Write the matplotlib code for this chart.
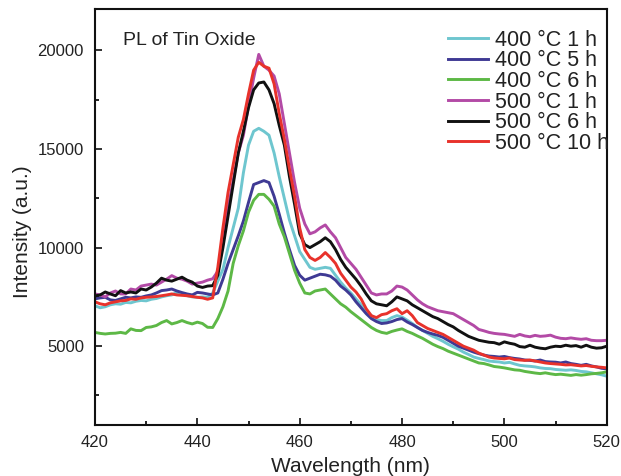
import numpy as np
import matplotlib
matplotlib.use("Agg")
import matplotlib.pyplot as plt
from matplotlib.ticker import MultipleLocator

wavelength = list(range(420, 521))

c400_1h = [7050, 6950, 7000, 7100, 7150, 7130, 7220, 7200, 7280, 7320,
           7300, 7380, 7420, 7500, 7560, 7600, 7730, 7650, 7560, 7500,
           7480, 7500, 7480, 7700, 8300, 8900, 10000, 11000, 12000, 13800,
           15200, 15900, 16050, 15900, 15700, 14800, 13600, 12500, 11400, 10600,
           9800, 9400, 9000, 8900, 8950, 9000, 8950, 8600, 8250, 7950,
           7700, 7400, 7100, 6800, 6550, 6350, 6300, 6300, 6450, 6550,
           6480, 6320, 6150, 5950, 5800, 5650, 5500, 5380, 5250, 5100,
           4970, 4850, 4700, 4580, 4450, 4380, 4320, 4250, 4220, 4200,
           4150, 4180, 4100, 4030, 4000, 3980, 3950, 3900, 3870, 3860,
           3820, 3800, 3780, 3800, 3770, 3720, 3700, 3650, 3600, 3550, 3480]

c400_5h = [7400, 7450, 7480, 7350, 7320, 7400, 7480, 7450, 7500, 7480,
           7550, 7600, 7700, 7820, 7850, 7900, 7800, 7720, 7650, 7600,
           7730, 7700, 7650, 7600, 7700, 8400, 9200, 9900, 10600, 11350,
           12300, 13200, 13300, 13400, 13300, 12600, 11700, 10750, 9900, 9100,
           8600, 8350, 8450, 8550, 8650, 8620, 8550, 8350, 8050, 7850,
           7600, 7250, 6950, 6650, 6400, 6250, 6150, 6180, 6250, 6350,
           6400, 6230, 6100, 5950, 5800, 5700, 5620, 5550, 5450, 5300,
           5150, 5000, 4900, 4800, 4700, 4620, 4550, 4500, 4480, 4450,
           4480, 4420, 4380, 4350, 4300, 4280, 4250, 4300, 4220, 4200,
           4190, 4150, 4200, 4120, 4080, 4030, 4080, 4000, 3950, 3880, 3850]

c400_6h = [5700, 5650, 5620, 5650, 5660, 5700, 5650, 5880, 5800, 5790,
           5950, 5980, 6050, 6200, 6300, 6130, 6200, 6300, 6200, 6130,
           6220, 6150, 5960, 5950, 6400, 7000, 7800, 9200, 10100, 10850,
           11800, 12400, 12700, 12700, 12450, 12100, 11200, 10550, 9700, 8850,
           8200, 7700, 7650, 7800, 7850, 7900, 7650, 7400, 7150, 6980,
           6750, 6550, 6350, 6150, 5950, 5800, 5700, 5650, 5750, 5820,
           5880, 5750, 5650, 5520, 5400, 5250, 5100, 4980, 4880, 4750,
           4650, 4550, 4450, 4350, 4250, 4150, 4120, 4050, 3970, 3940,
           3900, 3850, 3800, 3780, 3720, 3680, 3640, 3610, 3650, 3600,
           3560, 3580, 3550, 3520, 3560, 3530, 3560, 3600, 3620, 3650, 3700]

c500_1h = [7650, 7600, 7500, 7700, 7800, 7650, 7650, 7900, 7850, 8050,
           8100, 8150, 8100, 8250, 8400, 8580, 8450, 8400, 8300, 8150,
           8200, 8250, 8350, 8420, 8800, 10200, 12000, 13400, 14800, 15700,
           17200, 18600, 19800, 19200, 19000, 18700, 17800, 16300, 14800, 13300,
           12000, 11200, 10700, 10800, 11000, 11150, 10800, 10500, 10000, 9500,
           9200, 8900, 8500, 8100, 7700, 7600, 7650, 7650, 7800, 8050,
           8000, 7850, 7600, 7350, 7150, 7000, 6900, 6800, 6750, 6700,
           6650, 6500, 6350, 6200, 6050, 5850, 5780, 5700, 5650, 5620,
           5600, 5550, 5500, 5600, 5520, 5480, 5550, 5500, 5520, 5560,
           5460, 5400, 5380, 5420, 5380, 5350, 5380, 5300, 5280, 5280, 5300]

c500_6h = [7550, 7600, 7750, 7650, 7560, 7820, 7700, 7750, 7700, 7900,
           7850, 8000, 8200, 8450, 8350, 8300, 8400, 8500, 8350, 8250,
           8050, 7980, 8050, 8070, 8600, 10000, 11600, 13200, 14800, 15900,
           17100, 18000, 18350, 18400, 18000, 17300, 16200, 15200, 13600, 12200,
           10700, 10150, 10000, 10150, 10300, 10500, 10300, 9900, 9400, 9000,
           8700, 8400, 8050, 7650, 7300, 7150, 7100, 7050, 7250, 7500,
           7400, 7300, 7100, 6950, 6800, 6650, 6500, 6400, 6250, 6100,
           5980, 5800, 5650, 5500, 5400, 5300, 5250, 5200, 5180, 5100,
           5220, 5150, 5100, 4980, 4950, 5050, 4950, 4900, 4870, 4950,
           5000, 4980, 5050, 5000, 5030, 4950, 5050, 4950, 4900, 4920, 5000]

c500_10h = [7250, 7150, 7100, 7200, 7250, 7300, 7320, 7400, 7380, 7450,
            7480, 7500, 7520, 7560, 7600, 7650, 7600, 7580, 7560, 7520,
            7480, 7450, 7380, 7450, 9000, 11000, 12800, 14200, 15600, 16500,
            17800, 19000, 19400, 19200, 19100, 18300, 16800, 15500, 14000, 12600,
            11000, 9900, 9500, 9350, 9500, 9750, 9500, 9200, 8700, 8350,
            8000, 7750, 7400, 6900, 6550, 6450, 6600, 6650, 6800, 6900,
            6650, 6800, 6550, 6200, 6050, 5900, 5800, 5700, 5600, 5450,
            5300, 5150, 5000, 4900, 4800, 4650, 4550, 4450, 4400, 4380,
            4360, 4400, 4320, 4300, 4280, 4300, 4250, 4200, 4150, 4120,
            4100, 4080, 4050, 4060, 4030, 4000, 4020, 3980, 3950, 3930, 3900]

labels = ["400 °C 1 h", "400 °C 5 h", "400 °C 6 h",
          "500 °C 1 h", "500 °C 6 h", "500 °C 10 h"]
series = [c400_1h, c400_5h, c400_6h, c500_1h, c500_6h, c500_10h]
colors = ["#6ec6cf", "#3f3a94", "#5db846", "#b34aa6", "#111111", "#e8322b"]

plt.rcParams['font.family'] = ['Liberation Sans', 'DejaVu Sans']

fig = plt.figure(figsize=(6.21, 4.76), dpi=100)
ax = fig.add_axes([0.153, 0.107, 0.824, 0.874])

for y, lab, col in zip(series, labels, colors):
    ax.plot(wavelength, y, color=col, lw=2.1, label=lab)

ax.set_xlim(420, 520)
ax.set_ylim(1000, 22100)
ax.xaxis.set_major_locator(MultipleLocator(20))
ax.xaxis.set_minor_locator(MultipleLocator(10))
ax.yaxis.set_major_locator(MultipleLocator(5000))
ax.yaxis.set_minor_locator(MultipleLocator(2500))
ax.tick_params(which='major', direction='in', length=5, width=1.3,
               labelsize=12, colors='#222222', pad=7)
ax.tick_params(which='minor', direction='in', length=3, width=1.2)
ax.tick_params(axis='y', which='major', pad=8)
for s in ax.spines.values():
    s.set_linewidth(1.5)
    s.set_color('#111111')

ax.set_xlabel("Wavelength (nm)", fontsize=15, color='#222222', labelpad=5)
ax.set_ylabel("Intensity (a.u.)", fontsize=15, color='#222222')
ax.yaxis.set_label_coords(-0.123, 0.466)

ax.text(0.055, 0.925, "PL of Tin Oxide", transform=ax.transAxes,
        fontsize=14, color='#222222', va='center', ha='left')

leg = ax.legend(loc='upper left', bbox_to_anchor=(0.69, 0.95), frameon=False,
                fontsize=15.5, handlelength=1.85, handletextpad=0.35,
                labelspacing=-0.02, borderpad=0, borderaxespad=0)
for t in leg.get_texts():
    t.set_color('#222222')

fig.savefig("out.png", dpi=100)
